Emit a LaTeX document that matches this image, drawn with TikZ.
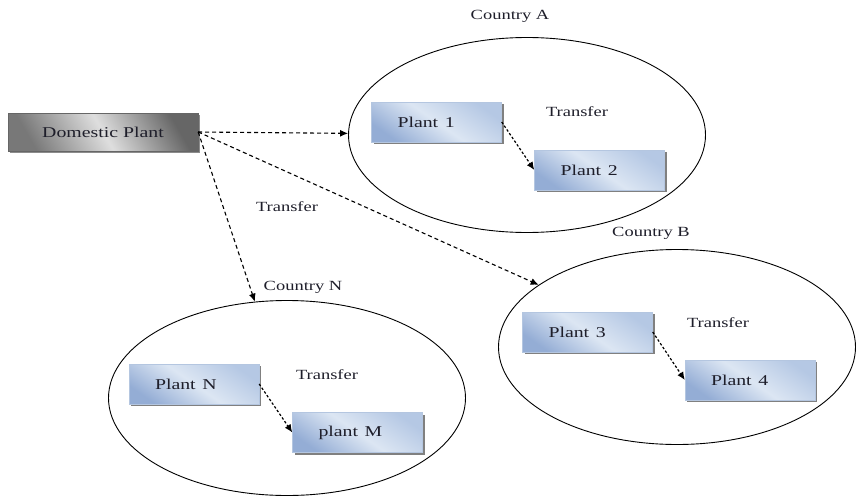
\documentclass[tikz,border=0pt]{standalone}
\usepackage{fontspec}
\setmainfont{Liberation Serif}
\usepackage{graphicx}
\usetikzlibrary{shapes.geometric,shadows,arrows.meta}
\definecolor{plantdark}{HTML}{94ADD5}
\definecolor{plantmid}{HTML}{B5C8E4}
\definecolor{plantlight}{HTML}{DCE6F3}
\definecolor{plantedge}{HTML}{B4C6E0}
\definecolor{domdark}{HTML}{787878}
\definecolor{domlight}{HTML}{DEDEDE}
\definecolor{txt}{HTML}{1E1E2A}
\newcommand{\wtext}[1]{\scalebox{1.32}[1]{#1}}

\begin{document}
\begin{tikzpicture}[x=1pt,y=-1pt,
  plant/.style={draw=plantedge,left color=plantdark,right color=plantmid,middle color=plantlight,shading angle=145,
    minimum height=40,text width=78,inner xsep=26,align=left,text=txt,font=\fontsize{15}{18}\selectfont,
    drop shadow={shadow xshift=2pt,shadow yshift=-2pt,fill=black!50,opacity=1}},
  dom/.style={draw=black!60,left color=domdark,right color=domdark!85!black,middle color=domlight,shading angle=120,
    minimum width=190,minimum height=38,text=txt,font=\fontsize{15}{18}\selectfont,
    drop shadow={shadow xshift=1.5pt,shadow yshift=-2pt,fill=black!45,opacity=1}},
  country/.style={ellipse,draw,line width=0.9pt,minimum width=357,minimum height=195,inner sep=0},
  lbl/.style={text=txt,font=\fontsize{14}{17}\selectfont},
  move/.style={dash pattern=on 4pt off 3pt,line width=1.1pt,-{Latex[length=8pt,width=7pt]}},
  hop/.style={dash pattern=on 2.5pt off 2pt,line width=1.2pt,-{Latex[length=8pt,width=7pt]}}]
\useasboundingbox (0,0) rectangle (856,495);
% countries
\node[country] (ctrA) at (527,135) {};
\node[country] (ctrB) at (677,347) {};
\node[country] (ctrN) at (287,398) {};
\node[lbl] (labA) at (510,16) {\wtext{Country A}};
\node[lbl] (labB) at (651,233) {\wtext{Country B}};
\node[lbl] (labN) at (303,287) {\wtext{Country N}};
% plants
\node[dom] (dom) at (103,132) {\wtext{Domestic Plant}};
\node[plant] (p1) at (436.5,122) {\wtext{Plant 1}};
\node[plant] (p2) at (599.5,170) {\wtext{Plant 2}};
\node[plant] (p3) at (587.5,332) {\wtext{Plant 3}};
\node[plant] (p4) at (750,380) {\wtext{Plant 4}};
\node[plant] (pN) at (194,384) {\wtext{Plant N}};
\node[plant] (pM) at (357.5,432.5) {\wtext{plant M}};
\node[lbl] (trA) at (577,112) {\wtext{Transfer}};
\node[lbl] (trB) at (718,323) {\wtext{Transfer}};
\node[lbl] (trN) at (327,375) {\wtext{Transfer}};
\node[lbl] (trD) at (287,207) {\wtext{Transfer}};
% transfers
\draw[move] (dom.east) -- (ctrA);
\draw[move] (dom.east) -- (ctrB);
\draw[move] (dom.east) -- (ctrN);
\draw[hop] (p1.east) -- (p2.west);
\draw[hop] (p3.east) -- (p4.west);
\draw[hop] (pN.east) -- (pM.west);
\end{tikzpicture}
\end{document}
